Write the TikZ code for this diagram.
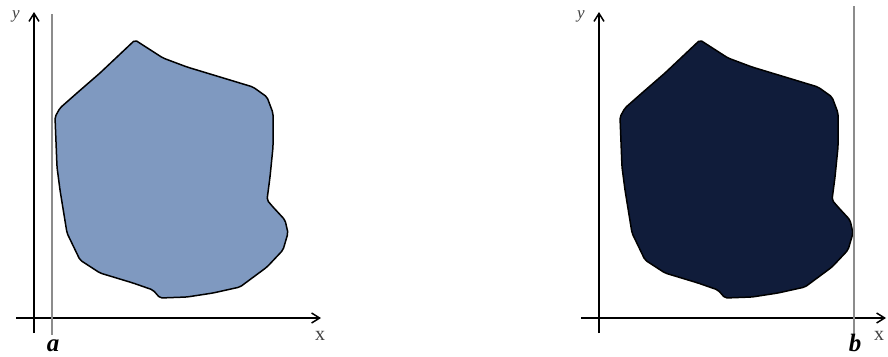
\documentclass[tikz,border=0pt]{standalone}
\usepackage{tikz}
\usepackage{fontspec}
\setmainfont{Liberation Serif}
\usetikzlibrary{arrows.meta}

\definecolor{lightreg}{HTML}{7F99C0}
\definecolor{darkreg}{HTML}{101C3A}

\begin{document}
\begin{tikzpicture}[x=1pt, y=-1pt, >={Straight Barb[length=8pt,width=10pt]},
  axis/.style={line width=1.5pt, ->},
  bound/.style={line width=2.6pt, gray!90},
  region/.style={draw=black, line width=1.5pt, rounded corners=2pt},
  lbl/.style={font=\fontsize{20}{20}\selectfont, inner sep=0pt, text=black!75},
  endlbl/.style={font=\fontsize{25}{25}\selectfont\bfseries\itshape, inner sep=0pt, anchor=base}]
  \useasboundingbox (0,0) rectangle (888,356);
  \foreach \dx/\col/\bx/\btop/\lab/\xl in {0/lightreg/52/14/a/320, 565/darkreg/854/6/b/314} {
    \begin{scope}[xshift=\dx pt]
      % the region
      \draw[region, fill=\col] (135,40) -- (163,58) -- (187,67) -- (253,87) -- (267,97)
        -- (273,113) -- (273,147) -- (270,177) -- (267,200) -- (273,207) -- (285,220)
        -- (288,233) -- (283,250) -- (267,267) -- (240,287) -- (213,293) -- (187,297)
        -- (160,298) -- (153,290) -- (133,283) -- (100,273) -- (80,260) -- (67,233)
        -- (60,190) -- (57,167) -- (55,117) -- (60,108) -- (77,93) -- (100,73) -- cycle;
      % axes
      \draw[axis] (34,333) -- (34,12);
      \draw[axis] (16,318) -- (321,318);
      \node[lbl, font=\fontsize{17}{17}\selectfont\itshape] (ylab\lab) at (16,16) {y};
      \node[lbl] (xlab\lab) at (\xl,336) {x};
      % bounding line
      \draw[bound] (\bx-\dx,\btop) -- (\bx-\dx,335);
      \node[endlbl] (end\lab) at (\bx-\dx+1,351) {\lab};
    \end{scope}
  }
\end{tikzpicture}
\end{document}
